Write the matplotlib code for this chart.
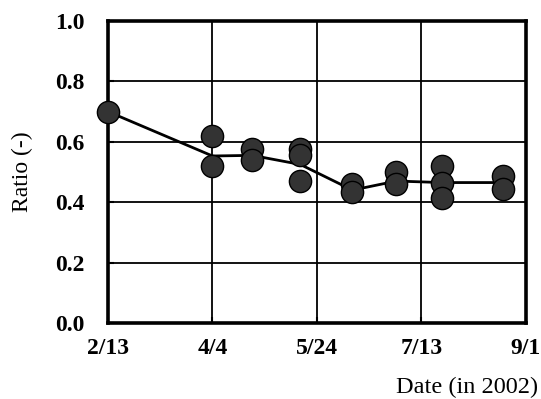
import numpy as np
import matplotlib
matplotlib.use("Agg")
import matplotlib.pyplot as plt

# sampling dates (2002) and the measured ratios on each date
dates = ["2002-02-13", "2002-04-04", "2002-04-23", "2002-05-16",
         "2002-06-10", "2002-07-01", "2002-07-23", "2002-08-21"]
ratios = [
    [0.70],
    [0.62, 0.52],
    [0.575, 0.54],
    [0.575, 0.555, 0.47],
    [0.46, 0.435],
    [0.50, 0.46],
    [0.52, 0.465, 0.415],
    [0.487, 0.445],
]
# line through the average of each date
mean_line = [0.70, 0.553, 0.555, 0.525, 0.44, 0.47, 0.465, 0.465]

tick_dates = ["2002-02-13", "2002-04-04", "2002-05-24", "2002-07-13", "2002-09-01"]
tick_labels = ["2/13", "4/4", "5/24", "7/13", "9/1"]
y_ticks = [0.0, 0.2, 0.4, 0.6, 0.8, 1.0]

x = np.array(dates, dtype="datetime64[D]")
xt = np.array(tick_dates, dtype="datetime64[D]")

fig = plt.figure(figsize=(5.41, 3.99), dpi=100)
ax = fig.add_axes([0.1996, 0.1905, 0.7726, 0.7569])

ax.plot(x, mean_line, color="black", linewidth=2.0, zorder=3)
for d, vals in zip(x, ratios):
    ax.plot([d] * len(vals), vals, linestyle="none", marker="o",
            markersize=16, markerfacecolor="#333333",
            markeredgecolor="black", markeredgewidth=1.0, zorder=4,
            clip_on=False)

ax.set_xlim(xt[0], xt[-1])
ax.set_ylim(0, 1.0)
ax.set_xticks(xt)
ax.set_xticklabels(tick_labels)
ax.set_yticks(y_ticks)
ax.set_yticklabels([f"{v:.1f}" for v in y_ticks])

ax.grid(True, color="black", linewidth=1.3)
for s in ax.spines.values():
    s.set_linewidth(2.6)
ax.tick_params(direction="in", length=4, width=1.5)
ax.tick_params(axis="x", pad=11)
ax.tick_params(axis="y", pad=17)

for lab in ax.get_xticklabels() + ax.get_yticklabels():
    lab.set_fontfamily("Liberation Serif")
    lab.set_fontweight("bold")
    lab.set_fontsize(17)

ax.set_ylabel("Ratio (-)", fontfamily="Liberation Serif", fontsize=17, labelpad=16)
ax.set_xlabel("Date (in 2002)", fontfamily="Liberation Serif", fontsize=17.5,
              ha="right", va="center")
ax.xaxis.set_label_coords(1.03, -0.215)

fig.savefig("out.png", dpi=100)
